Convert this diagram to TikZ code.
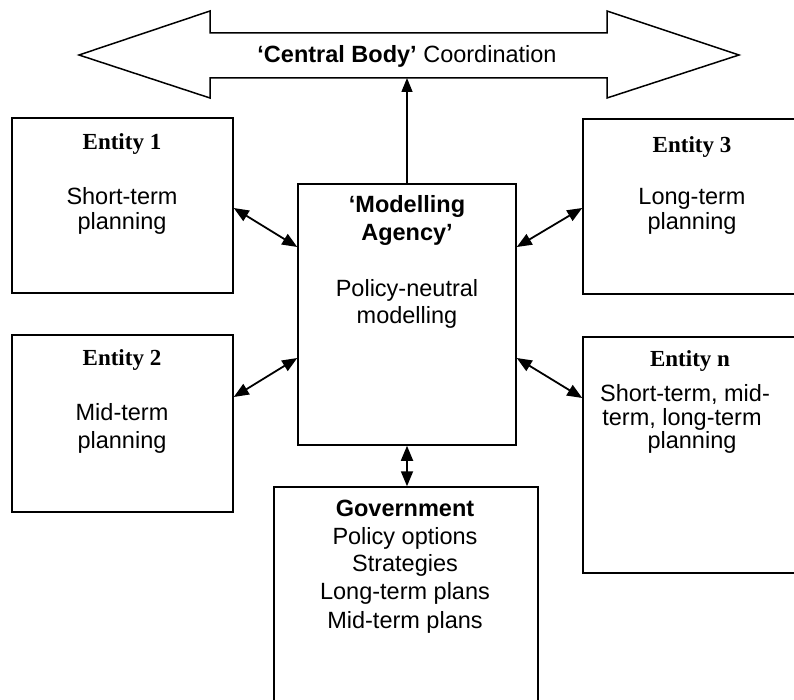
\documentclass[tikz,border=0pt]{standalone}
\usepackage{fontspec}
\setmainfont{Liberation Sans}
\newfontfamily\titlef{Liberation Serif}
\usetikzlibrary{arrows.meta}
\begin{document}
\begin{tikzpicture}[x=1pt,y=-1pt,
  box/.style={draw, line width=1.5pt, fill=white, rectangle, inner sep=0pt},
  link/.style={line width=1.8pt, {Triangle[length=15pt,width=12pt]}-{Triangle[length=15pt,width=12pt]}},
  uparrow/.style={line width=1.5pt, -{Triangle[length=14pt,width=11pt]}},
  ttl/.style={anchor=base, inner sep=0pt, font=\fontsize{23}{25}\titlef\bfseries},
  bodytxt/.style={anchor=base, inner sep=0pt, font=\fontsize{23.5}{25}\selectfont},
  boldtxt/.style={anchor=base, inner sep=0pt, font=\fontsize{23.5}{25}\selectfont\bfseries}]
\fill[white] (0,0) rectangle (794,700);
\useasboundingbox (0,0) rectangle (794,700);
\clip (0,0) rectangle (794,700);

% central body arrow
\draw[line width=1.5pt, fill=white, line join=miter]
  (79,55) -- (210,11) -- (210,33) -- (607,33) -- (607,11) -- (739,55)
  -- (607,98) -- (607,78) -- (210,78) -- (210,98) -- cycle;
\node[bodytxt] (cb) at (407,63) {{\bfseries ‘Central Body’} Coordination};
\coordinate (cbb) at (407,78);

% boxes
\node[box, minimum width=221pt, minimum height=175pt] (e1) at (122.5,205.5) {};
\node[box, minimum width=221pt, minimum height=177pt] (e2) at (122.5,423.5) {};
\node[box, minimum width=218pt, minimum height=261pt] (ma) at (407,314.5) {};
\node[box, minimum width=221pt, minimum height=175pt] (e3) at (693.5,206.5) {};
\node[box, minimum width=221pt, minimum height=236pt] (en) at (693.5,455) {};
\node[box, minimum width=264pt, minimum height=233pt] (gov) at (406,603.5) {};

% texts
\node[ttl] (e1t) at (122,150) {Entity 1};
\node[bodytxt] (e1a) at (122,205) {Short-term};
\node[bodytxt] (e1b) at (122,230) {planning};

\node[ttl] (e2t) at (122,365) {Entity 2};
\node[bodytxt] (e2a) at (122,420) {Mid-term};
\node[bodytxt] (e2b) at (122,448) {planning};

\node[boldtxt] (mat) at (407,213) {‘Modelling};
\node[boldtxt] (mau) at (407,241) {Agency’};
\node[bodytxt] (maa) at (407,296) {Policy-neutral};
\node[bodytxt] (mab) at (407,323) {modelling};

\node[ttl] (e3t) at (692,153) {Entity 3};
\node[bodytxt] (e3a) at (692,205) {Long-term};
\node[bodytxt] (e3b) at (692,230) {planning};

\node[ttl] (ent) at (690,366) {Entity n};
\node[bodytxt] (ena) at (685,401) {Short-term, mid-};
\node[bodytxt] (enb) at (682,425) {term, long-term};
\node[bodytxt] (enc) at (692,448) {planning};

\node[boldtxt] (govt) at (405,516) {Government};
\node[bodytxt] (gova) at (405,544) {Policy options};
\node[bodytxt] (govb) at (405,571) {Strategies};
\node[bodytxt] (govc) at (405,599) {Long-term plans};
\node[bodytxt] (govd) at (405,628) {Mid-term plans};

% connectors
\draw[uparrow] (ma.north) -- (cbb);
\draw[link] ([yshift=-2.5pt]e1.east) -- ([yshift=67.5pt]ma.west);
\draw[link] ([yshift=26.5pt]e2.east) -- ([yshift=-43.5pt]ma.west);
\draw[link] ([yshift=-1.5pt]e3.west) -- ([yshift=67.5pt]ma.east);
\draw[link] ([yshift=57pt]en.west) -- ([yshift=-43.5pt]ma.east);
\draw[link] (ma.south) -- (ma.south |- gov.north);
\end{tikzpicture}
\end{document}
